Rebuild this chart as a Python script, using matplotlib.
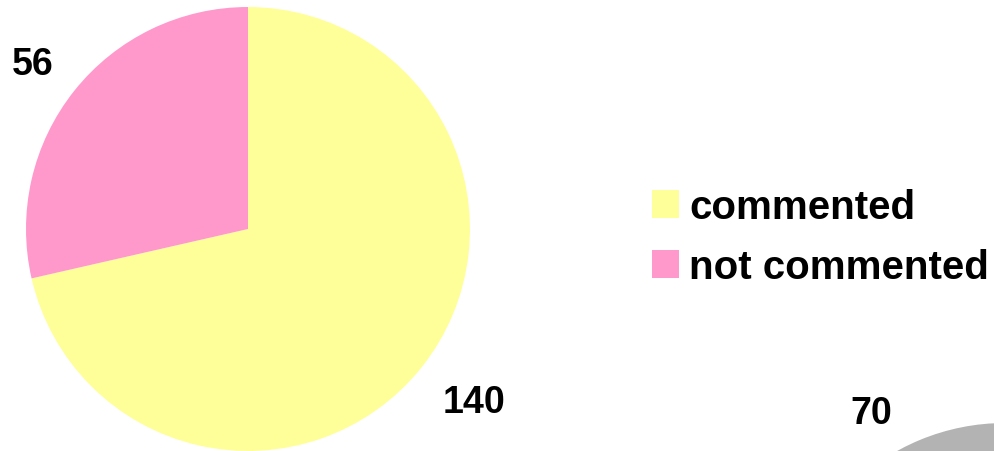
import matplotlib
matplotlib.use("Agg")
import matplotlib.pyplot as plt

categories = ["commented", "not commented"]
values = [140, 56]
colors = ["#FFFF99", "#FF99CC"]

second_values = [70]
second_colors = ["#B3B3B3"]

plt.rcParams['font.family'] = ['Liberation Sans', 'DejaVu Sans']

W, H = 994, 452
fig = plt.figure(figsize=(W / 100, H / 100), dpi=100)
ax = fig.add_axes([0, 0, 1, 1])

tp = dict(fontsize=27, fontweight='bold', color='black')

c1 = (248, 222)
c2 = (1005, -194)
wedges, texts = ax.pie(values, colors=colors, labels=[str(v) for v in values],
                       startangle=90, counterclock=False, center=c1,
                       radius=222, labeldistance=1.12, textprops=tp,
                       wedgeprops=dict(linewidth=0))
w2, t2 = ax.pie(second_values, colors=second_colors,
                labels=[str(v) for v in second_values],
                startangle=297, counterclock=False, center=c2,
                radius=222, labeldistance=1.12, textprops=tp,
                wedgeprops=dict(linewidth=0))
for group, c in ((texts, c1), (t2, c2)):
    for t in group:
        x, y = t.get_position()
        t.set_ha('left' if x > c[0] else 'right')
        t.set_va('top' if y < c[1] else 'baseline')

ax.set_xlim(0, W)
ax.set_ylim(0, H)
ax.set_aspect('equal')
ax.axis('off')

leg = ax.legend(wedges, categories, loc='center left',
                bbox_to_anchor=(652 / W, 1 - 238 / H), frameon=False,
                prop=dict(size=29, weight='bold'),
                handlelength=0.67, handleheight=0.67, handletextpad=0.25,
                labelspacing=0.55, borderaxespad=0, borderpad=0)

fig.savefig("out.png", dpi=100)
